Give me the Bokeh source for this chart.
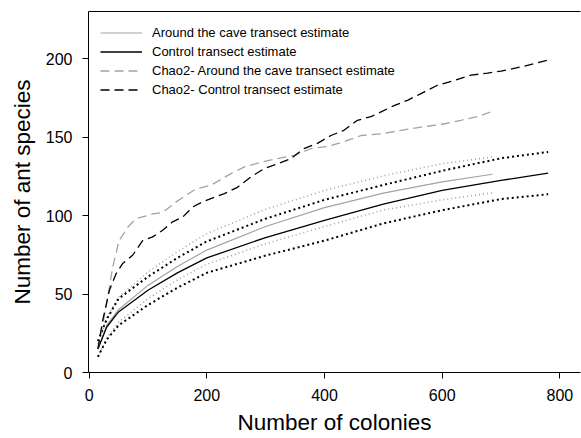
from bokeh.plotting import figure
from bokeh.models import Range1d, LinearAxis, FixedTicker, Legend, LegendItem, AllLabels
from bokeh.embed import file_html
from bokeh.resources import INLINE

# ---- data ----
cave_x = [15, 30, 50, 100, 150, 200, 300, 400, 500, 600, 685]
cave_est = [15, 30, 40, 55.5, 67.5, 78, 93, 105, 114.3, 121.4, 126.3]
cave_upper = [18, 35, 48, 64, 77, 88.5, 104, 116, 125.3, 133, 137.3]
cave_lower = [10, 22, 32, 47, 59, 69, 82, 93, 103.5, 110, 114.5]

ctrl_x = [15, 30, 50, 100, 150, 200, 300, 400, 500, 600, 700, 780]
ctrl_est = [15, 29, 38.6, 52.4, 63.5, 73, 86, 97, 107.3, 116, 122.4, 127]
ctrl_upper = [20, 34, 47, 61, 73, 83.5, 98, 110, 119.5, 128.5, 136.5, 140.5]
ctrl_lower = [10, 21, 30, 43, 54, 63.5, 74.5, 84, 95, 103.4, 110.5, 113.6]

chao_cave_x = [15, 29, 40, 51, 66, 80, 108, 125, 148, 165, 182, 207, 241, 264, 292,
               320, 349, 377, 405, 433, 462, 496, 530, 564, 598, 632, 660, 685]
chao_cave = [15, 41.8, 67, 84, 92.7, 98, 101, 102, 108.7, 113, 117, 119.3, 126.7, 131, 134,
             136.3, 138.4, 142.7, 144, 147, 151, 152, 154.3, 156.4, 158, 160.7, 163, 166.4]

chao_ctrl_x = [15, 23, 34.5, 46, 57, 74, 91, 108, 125, 142, 159, 176, 193, 207, 230, 252,
               275, 298, 320, 343, 365, 388, 411, 433, 456, 479, 496, 518, 541, 564,
               592, 620, 649, 677, 700, 733, 780]
chao_ctrl = [15, 33, 52.4, 63, 69.4, 74.7, 84, 86.4, 90.6, 96, 99, 105.5, 108.7, 110.8, 114, 118,
             124.6, 130, 133, 136.3, 142.7, 146, 151, 154.3, 160.7, 163, 166, 170, 173.4, 177.7,
             183, 186, 189.4, 190.8, 192, 194.6, 199]

legend_labels = ["Around the cave transect estimate", "Control transect estimate",
                 "Chao2- Around the cave transect estimate", "Chao2- Control transect estimate"]

x_ticks = [0, 200, 400, 600, 800]
y_ticks = [0, 50, 100, 150, 200]
x_title = "Number of colonies"
y_title = "Number of ant species"

GRAY = "#a3a3a3"
FONT = "Liberation Sans"

p = figure(width=581, height=438, output_backend="svg", toolbar_location=None,
           x_range=Range1d(-1, 835), y_range=Range1d(0, 230),
           min_border_left=88, min_border_right=1, min_border_top=11, min_border_bottom=66)
p.outline_line_color = None
p.xgrid.visible = False
p.ygrid.visible = False
p.background_fill_color = "white"
p.border_fill_color = "white"

# confidence intervals (dotted)
p.line(cave_x, cave_upper, line_color=GRAY, line_width=1.6, line_dash="1 3")
p.line(cave_x, cave_lower, line_color=GRAY, line_width=1.6, line_dash="1 3")
p.line(ctrl_x, ctrl_upper, line_color="black", line_width=2, line_dash="2 3")
p.line(ctrl_x, ctrl_lower, line_color="black", line_width=2, line_dash="2 3")

r1 = p.line(cave_x, cave_est, line_color=GRAY, line_width=1.2)
r2 = p.line(ctrl_x, ctrl_est, line_color="black", line_width=1.3)
r3 = p.line(chao_cave_x, chao_cave, line_color=GRAY, line_width=1.3, line_dash="9 5")
r4 = p.line(chao_ctrl_x, chao_ctrl, line_color="black", line_width=1.3, line_dash="9 5")

legend = Legend(items=[LegendItem(label=legend_labels[0], renderers=[r1]),
                       LegendItem(label=legend_labels[1], renderers=[r2]),
                       LegendItem(label=legend_labels[2], renderers=[r3]),
                       LegendItem(label=legend_labels[3], renderers=[r4])],
                location="top_left")
legend.border_line_color = None
legend.background_fill_alpha = 0
legend.label_text_font = FONT
legend.label_text_font_size = "13px"
legend.label_text_color = "black"
legend.glyph_width = 42
legend.glyph_height = 19
legend.label_height = 19
legend.label_standoff = 10
legend.spacing = 0
legend.margin = 12
legend.padding = 10
p.add_layout(legend)

for ax, ticks in ((p.xaxis[0], x_ticks), (p.yaxis[0], y_ticks)):
    ax.ticker = FixedTicker(ticks=ticks)
    ax.major_label_policy = AllLabels()
    ax.minor_tick_line_color = None
    ax.major_tick_out = 6
    ax.major_tick_in = 0
    ax.axis_line_color = "black"
    ax.major_tick_line_color = "black"
    ax.major_label_text_font = FONT
    ax.major_label_text_font_size = "16px"
    ax.major_label_text_color = "black"
    ax.axis_label_text_font = FONT
    ax.axis_label_text_font_size = "22.5px"
    ax.axis_label_text_font_style = "normal"
    ax.axis_label_text_color = "black"

p.xaxis[0].axis_label = x_title
p.yaxis[0].axis_label = y_title
p.xaxis[0].major_label_standoff = 10
p.yaxis[0].major_label_standoff = 10
p.xaxis[0].axis_label_standoff = 6
p.yaxis[0].axis_label_standoff = 8

top = LinearAxis(ticker=FixedTicker(ticks=[]), major_label_text_font_size="0px",
                 major_tick_line_color=None, minor_tick_line_color=None,
                 axis_line_color="black")
p.add_layout(top, "above")

open("out.html", "w").write(file_html(p, INLINE))
